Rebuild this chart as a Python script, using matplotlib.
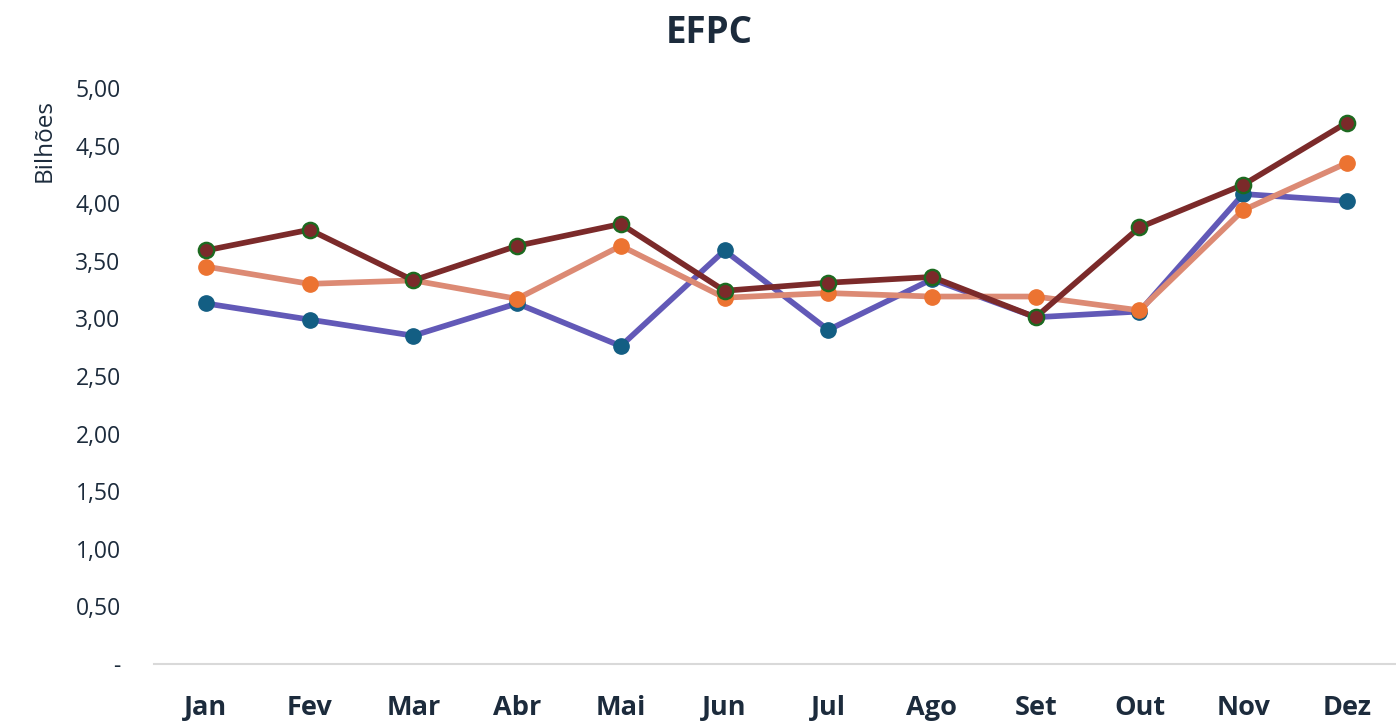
import matplotlib
matplotlib.use("Agg")
import matplotlib.pyplot as plt
from matplotlib.ticker import FuncFormatter

months = ["Jan", "Fev", "Mar", "Abr", "Mai", "Jun", "Jul", "Ago", "Set", "Out", "Nov", "Dez"]
serie_a = [3.13, 2.99, 2.85, 3.13, 2.76, 3.59, 2.90, 3.34, 3.01, 3.06, 4.08, 4.02]
serie_b = [3.45, 3.30, 3.33, 3.17, 3.63, 3.18, 3.22, 3.19, 3.19, 3.07, 3.94, 4.35]
serie_c = [3.59, 3.77, 3.33, 3.63, 3.82, 3.24, 3.31, 3.36, 3.01, 3.79, 4.16, 4.70]
yticks = [0, 0.5, 1, 1.5, 2, 2.5, 3, 3.5, 4, 4.5, 5]

plt.rcParams['font.family'] = ['Open Sans', 'DejaVu Sans']
text_color = "#1c2b3c"

fig = plt.figure(figsize=(13.96, 7.24), dpi=100)
ax = fig.add_axes([0.1103, 0.0829, 0.8917, 0.7955])
x = list(range(len(months)))

ax.plot(x, serie_a, color="#6259b7", lw=4.1, marker="o", ms=11,
        markerfacecolor="#135e83", markeredgecolor="#135e83", zorder=3)
ax.plot(x, serie_b, color="#dc8a74", lw=4.1, marker="o", ms=11,
        markerfacecolor="#ec7331", markeredgecolor="#ec7331", zorder=4)
ax.plot(x, serie_c, color="#7b2a2a", lw=4.1, marker="o", ms=11,
        markerfacecolor="#7b2a2a", markeredgecolor="#1d6a20", markeredgewidth=1.7, zorder=5)

ax.set_xlim(-0.5, 11.5)
ax.set_ylim(0, 5)
ax.set_yticks(yticks)
ax.yaxis.set_major_formatter(FuncFormatter(lambda v, p: "-" if abs(v) < 1e-9 else f"{v:.2f}".replace(".", ",")))
ax.set_xticks(x)
ax.set_xticklabels(months, fontsize=19.5, fontweight="bold", color=text_color)
ax.tick_params(axis="y", labelsize=16.5, colors=text_color, length=0, pad=24)
ax.tick_params(axis="x", length=0, pad=22)
for lbl in ax.get_yticklabels():
    lbl.set_horizontalalignment("right")

for s in ["top", "right", "left"]:
    ax.spines[s].set_visible(False)
ax.spines["bottom"].set_color("#d9d9d9")
ax.spines["bottom"].set_linewidth(1.5)

ax.set_ylabel("Bilhões", fontsize=17.5, color=text_color)
ax.yaxis.set_label_coords(-0.078, 0.909)
fig.text(0.508, 0.955, "EFPC", ha="center", va="center", fontsize=26.5, fontweight="bold", color=text_color)

fig.savefig("out.png", dpi=100)
